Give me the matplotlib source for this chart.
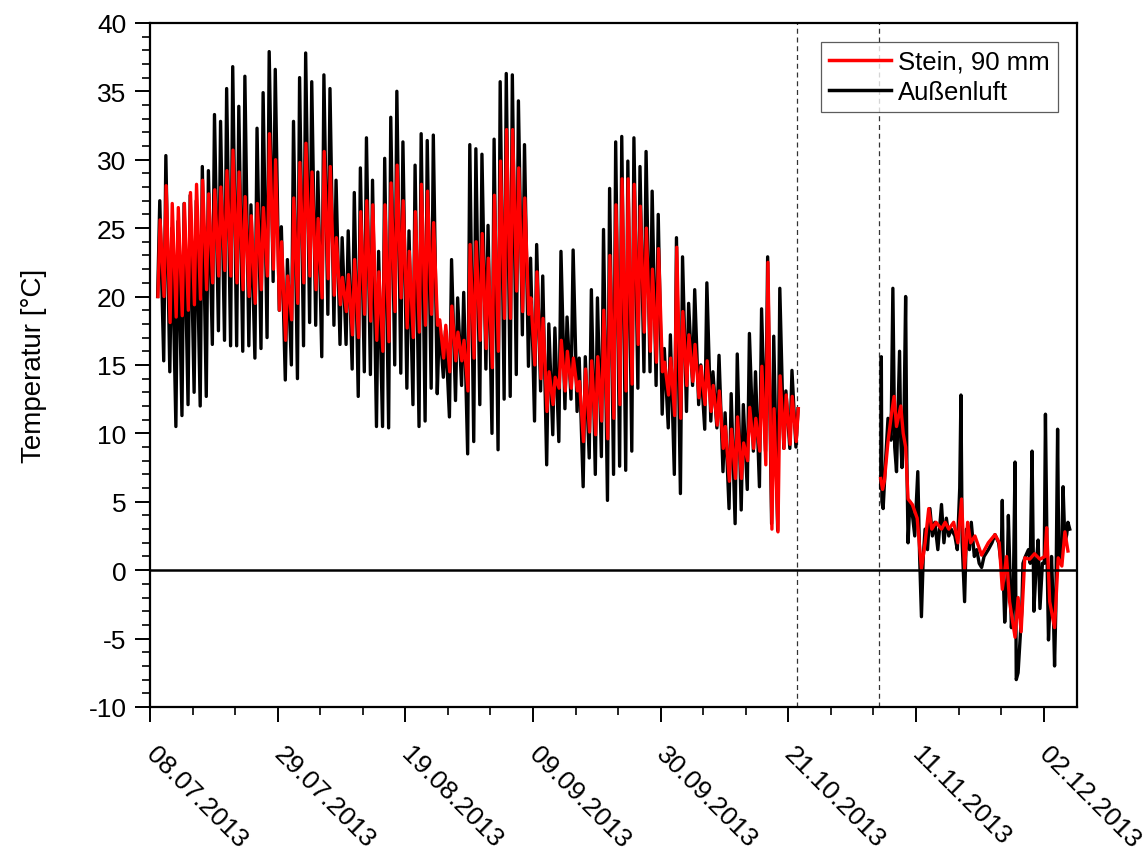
import numpy as np
import pandas as pd
import matplotlib
matplotlib.use('Agg')
import matplotlib.pyplot as plt
import matplotlib.dates as mdates
import matplotlib.transforms as mtransforms

plt.rcParams['font.family'] = ['Liberation Sans', 'DejaVu Sans']
plt.rcParams['axes.unicode_minus'] = False

## start of the time axis (day 0 = 08.07.2013)
t0 = pd.Timestamp('2013-07-08')

## daily extremes, days 1..106 (09.07. - 22.10.)
days = np.arange(1, 107)

luft_max = [27.0, 30.3, 25.0, 25.5, 26.8, 27.4, 27.0, 29.5, 29.2, 33.3, 32.8, 35.2, 36.8, 33.9, 36.1, 26.7,
            32.3, 34.9, 37.9, 36.6, 25.1, 22.7, 32.8, 36.0, 37.8, 35.7,
            29.1, 36.2, 35.2, 28.5, 24.3, 24.8, 27.6, 29.4, 31.6, 28.5, 23.3, 30.1, 33.1, 35.0, 31.3, 24.8,
            29.6, 31.9, 31.4, 31.8, 18.2, 17.5, 22.7, 19.9, 20.3, 31.1, 30.8,
            30.4, 25.2, 31.5, 35.7, 36.3, 36.2, 34.3, 31.1, 22.8, 23.8, 21.5, 18.0, 17.7, 23.3, 18.5, 23.4,
            15.5, 15.6, 20.5, 19.9, 24.9, 27.9, 31.3, 31.7, 29.9, 31.6,
            29.5, 30.6, 27.7, 26.0, 16.2, 17.2, 24.3, 22.9, 19.5, 20.5, 15.0, 21.0, 14.5, 15.7, 11.5, 12.9,
            15.8, 12.1, 17.3, 14.5, 19.1, 22.9, 17.1, 20.6, 13.1, 14.6, 11.8]
luft_min = [20.0, 15.3, 14.5, 10.5, 11.3, 12.1, 13.0, 12.0, 12.7, 16.5, 17.5, 16.8, 16.4, 16.4, 16.0, 16.4,
            15.5, 16.2, 17.0, 21.1, 19.0, 13.9, 15.0, 14.0, 16.4, 18.1,
            17.9, 15.6, 18.7, 17.9, 16.5, 16.5, 14.7, 12.7, 14.5, 14.3, 10.5, 10.5, 10.4, 15.0, 14.4, 13.3,
            12.1, 10.5, 10.9, 13.3, 12.9, 14.1, 11.2, 12.4, 13.5, 8.5, 9.4,
            12.1, 14.7, 10.0, 8.8, 12.5, 12.7, 14.3, 17.2, 14.9, 10.9, 13.1, 7.7, 9.9, 9.4, 11.8, 12.5,
            11.6, 6.1, 8.2, 7.0, 8.3, 5.1, 7.0, 7.6, 7.3, 8.7,
            13.3, 14.5, 14.5, 13.5, 11.4, 10.4, 7.0, 5.6, 11.6, 13.5, 12.1, 10.3, 10.9, 10.4, 7.2, 4.5,
            3.4, 4.4, 5.9, 8.7, 6.1, 8.7, 3.4, 2.9, 8.9, 8.9, 9.0]
stein_max = [25.6, 28.1, 26.8, 26.5, 26.8, 27.6, 28.2, 28.5, 27.5, 27.8, 28.0, 29.2, 30.7, 29.1, 27.3, 25.9,
             26.8, 26.5, 31.9, 30.0, 24.0, 21.5, 27.2, 29.8, 31.2, 29.1,
             25.7, 30.6, 29.5, 24.3, 21.4, 21.6, 22.7, 26.2, 27.0, 26.7, 21.8, 26.7, 28.3, 29.6, 27.0, 23.3,
             26.2, 28.2, 27.7, 25.4, 18.3, 17.9, 19.3, 17.4, 16.8, 23.8, 24.0,
             24.6, 22.8, 27.4, 29.9, 32.2, 32.2, 29.4, 27.2, 19.9, 21.8, 18.4, 14.5, 14.1, 16.8, 16.0, 15.5,
             13.8, 14.7, 15.3, 15.6, 19.0, 23.0, 26.7, 28.6, 28.6, 28.2,
             26.6, 25.0, 22.0, 23.5, 15.2, 15.5, 23.6, 18.9, 17.2, 16.5, 14.9, 15.3, 13.5, 13.1, 10.5, 10.3,
             11.2, 9.3, 11.9, 11.1, 14.9, 22.5, 11.8, 14.2, 12.8, 12.7, 11.8]
stein_min = [20.0, 20.0, 18.1, 18.5, 18.6, 19.0, 19.4, 19.8, 20.5, 21.0, 21.5, 21.9, 21.5, 21.0, 20.5, 20.0,
             19.5, 20.5, 21.5, 22.0, 19.0, 16.8, 18.3, 19.5, 21.0, 21.5,
             20.5, 19.9, 21.3, 20.1, 19.4, 18.9, 17.2, 17.0, 18.7, 18.2, 16.8, 16.0, 16.7, 18.9, 19.9, 17.7,
             17.0, 17.4, 17.9, 18.7, 17.9, 15.5, 14.5, 15.3, 15.3, 13.1, 15.5,
             16.8, 16.2, 14.8, 16.0, 18.4, 18.4, 20.4, 18.9, 18.7, 15.0, 14.0, 11.6, 12.1, 13.3, 13.1, 13.3,
             13.1, 9.4, 10.1, 9.9, 10.9, 9.6, 11.1, 12.1, 13.1, 13.6,
             16.5, 17.4, 16.0, 15.2, 14.5, 12.8, 11.3, 11.1, 13.5, 13.8, 12.6, 12.1, 11.6, 10.6, 8.9, 6.5,
             6.7, 6.7, 8.0, 8.9, 8.7, 7.7, 3.0, 2.8, 8.9, 9.2, 9.4]

## second part after the gap (05.11. - 06.12.), read as (day, value)
luft2_t = [120.2, 120.3, 120.4, 120.6, 121.0, 121.4, 121.9, 122.2, 122.5, 122.8, 123.3, 123.5, 123.7, 124.0,
           124.3, 124.5, 124.7, 125.0, 125.3, 125.8, 126.3, 126.6, 126.9, 127.2, 127.5, 127.9, 128.3, 128.7,
           129.1, 129.6, 130.2, 130.6, 131.0, 131.4, 131.8, 132.4, 132.8, 133.2, 133.4, 133.6, 134.0, 134.3,
           134.8, 135.1, 135.6, 136.0, 136.4, 136.8, 137.2, 137.9, 138.5, 139.0, 139.6, 140.0, 140.2, 140.4,
           140.6, 141.0, 141.2, 141.5, 141.7, 142.0, 142.3, 142.5, 142.8, 143.1, 143.4, 143.6, 144.0, 144.5,
           144.8, 145.1, 145.4, 145.8, 146.1, 146.4, 146.8, 147.1, 147.3, 147.6, 147.8, 148.1, 148.3, 148.6,
           148.8, 149.0, 149.3, 149.5, 149.7, 150.0, 150.2, 150.5, 150.8, 151.0, 151.3]
luft2_v = [6.0, 15.6, 5.0, 4.5, 8.0, 11.1, 9.5, 20.6, 9.0, 7.2, 16.0, 9.5, 7.5, 10.0,
           20.0, 8.0, 2.0, 5.0, 4.5, 2.5, 7.2, 1.0, -3.4, 1.0, 3.0, 1.5, 4.5, 2.5,
           3.5, 1.5, 4.8, 2.0, 3.8, 2.5, 3.0, 2.5, 1.5, 6.0, 12.8, 2.0, -2.3, 3.0,
           1.5, 3.5, 1.0, 1.5, 0.5, 0.2, 1.0, 1.5, 2.0, 2.6, 2.0, 0.5, 5.1, -1.0,
           -3.8, -0.5, 4.0, -1.0, -4.2, -2.0, 7.9, -8.0, -7.5, -5.2, -3.0, 0.5, 1.0, 1.5,
           0.5, 8.7, -3.0, 0.5, 2.2, -2.8, 0.5, 0.5, 11.4, 0.0, -5.1, -2.0, 1.0, -3.0,
           -7.0, -3.0, 10.3, 0.5, 1.0, 2.0, 6.1, 2.0, 2.6, 3.5, 3.0]
stein2_t = [120.2, 120.5, 120.8, 121.4, 122.0, 122.4, 122.8, 123.5, 123.9, 124.3, 124.7, 125.4, 126.2, 126.9,
            127.5, 128.1, 128.6, 129.3, 130.2, 130.8, 131.4, 132.2, 132.9, 133.5, 134.0, 134.5, 135.0, 135.7,
            136.8, 137.9, 139.0, 139.7, 140.2, 140.9, 141.4, 142.3, 142.8, 143.3, 143.9, 144.7, 145.5, 146.4,
            147.2, 147.5, 148.0, 148.8, 149.4, 150.0, 150.5, 151.0]
stein2_v = [6.7, 5.9, 6.5, 9.4, 11.5, 12.7, 10.5, 12.0, 10.0, 9.0, 5.2, 4.8, 3.8, 0.1,
            2.0, 4.5, 3.0, 3.5, 3.0, 3.5, 3.0, 3.5, 2.0, 5.2, 0.1, 3.5, 2.0, 2.5,
            1.1, 2.0, 2.6, 2.0, -1.4, 1.0, -2.3, -4.9, -2.0, -4.5, 0.9, 0.8, 1.2, 0.8,
            1.0, 3.1, -2.3, -4.2, 0.9, 0.3, 2.8, 1.4]

## measurement gap
gap_lines = ['2013-10-22 10:00', '2013-11-05 00:00']


def build(d, vmin, vmax, t_min, t_max, t2, v2):
    # daily min/max alternating, then the part after the gap
    t = np.column_stack([d + t_min, d + t_max]).ravel()
    v = np.column_stack([vmin, vmax]).ravel()
    t = np.concatenate([t, [np.nan], t2])
    v = np.concatenate([v, [np.nan], v2])
    time = t0 + pd.to_timedelta(np.nan_to_num(t), unit='D')
    return time, v


t_luft, v_luft = build(days, luft_min, luft_max, 0.25, 0.6, luft2_t, luft2_v)
t_stein, v_stein = build(days, stein_min, stein_max, 0.3, 0.65, stein2_t, stein2_v)

fig = plt.figure(figsize=(11.48, 8.53), dpi=100)
ax = fig.add_axes([0.1307, 0.170, 0.8075, 0.802])

ax.plot(t_luft, v_luft, color='black', lw=2.4, zorder=3)
ax.plot(t_stein, v_stein, color='#ff0000', lw=2.4, zorder=4)

# legend handles (Stein first)
ax.plot([], [], color='#ff0000', lw=2.5, label='Stein, 90 mm')
ax.plot([], [], color='black', lw=2.5, label='Außenluft')

ax.axhline(0, color='black', lw=1.8, zorder=5)
for g in gap_lines:
    ax.axvline(pd.Timestamp(g), color='#333333', lw=0.9, ls=(0, (4, 3)), zorder=2)

ax.set_ylim(-10, 40)
ax.set_xlim(t0, t0 + pd.Timedelta(days=152.5))
ax.set_yticks(np.arange(-10, 41, 5))
ax.set_yticks(np.arange(-10, 41, 1), minor=True)

major_dates = pd.date_range('2013-07-08', periods=8, freq='21D')
minor_dates = pd.date_range('2013-07-08', periods=22, freq='7D')
ax.set_xticks(major_dates)
ax.set_xticks(minor_dates, minor=True)
ax.xaxis.set_major_formatter(mdates.DateFormatter('%d.%m.%Y'))

ax.tick_params(which='major', direction='out', length=11, width=1.4, labelsize=19)
ax.tick_params(axis='x', which='major', pad=14)
ax.tick_params(axis='y', which='major', pad=6)
ax.tick_params(which='minor', direction='out', length=6, width=1.2)

# rotated date labels, nudged a bit to the right
shift = mtransforms.ScaledTranslation(8 / 100, 0, fig.dpi_scale_trans)
for lab in ax.get_xticklabels():
    lab.set_rotation(-45)
    lab.set_ha('left')
    lab.set_va('top')
    lab.set_rotation_mode('anchor')
    lab.set_transform(lab.get_transform() + shift)

for s in ax.spines.values():
    s.set_linewidth(1.6)

ax.set_ylabel('Temperatur [°C]', fontsize=20, labelpad=30)

leg = ax.legend(loc='upper right', fontsize=18.5, frameon=True, fancybox=False,
                handlelength=2.4, borderaxespad=0.75, borderpad=0.3, labelspacing=0.25,
                handletextpad=0.3)
leg.get_frame().set_edgecolor('#333333')
leg.get_frame().set_linewidth(0.9)

plt.savefig('out.png', dpi=100)
